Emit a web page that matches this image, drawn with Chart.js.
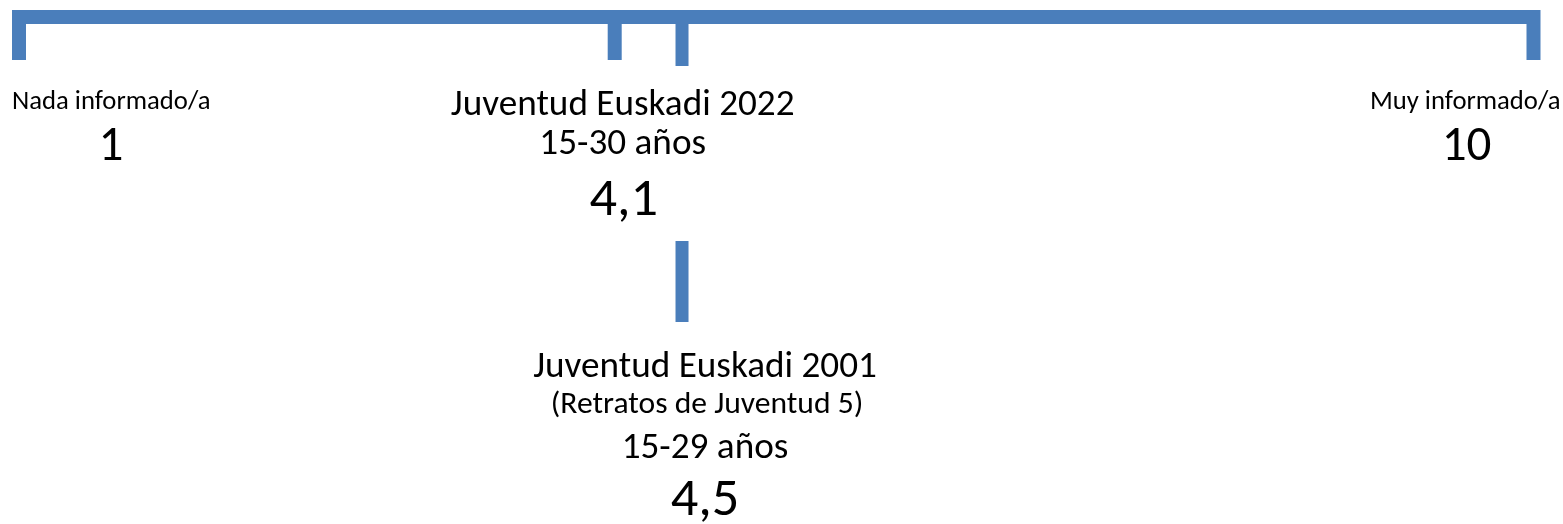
<!DOCTYPE html>
<html>
<head>
<meta charset="utf-8">
<script src="https://cdn.jsdelivr.net/npm/chart.js@4/dist/chart.umd.min.js"></script>
<style>
  html, body { margin: 0; padding: 0; background: #ffffff; }
  #wrap { width: 1563px; height: 524px; }
</style>
</head>
<body>
<div id="wrap"><canvas id="c" width="1563" height="524"></canvas></div>
<script>
// ---------- data ----------
const scaleEnds = [1, 10];
const scaleEndLabels = ['Nada informado/a', 'Muy informado/a'];
const surveyTitles = ['Juventud Euskadi 2022', 'Juventud Euskadi 2001'];
const surveyNotes = ['', '(Retratos de Juventud 5)'];
const ageRanges = ['15-30 años', '15-29 años'];
const scores = [4.1, 4.5];

// ---------- layout / style ----------
const BLUE = '#4A7EBB';
const FONT = "Carlito, Lato, 'Noto Sans', sans-serif";
// the source infographic draws its markers ~0.44 units right of the true scale position
const X_OFFSET = 0.44;
const BAR_Y = 17, BAR_W = 14, END_TICK_BOTTOM = 60;
const MARKER_BOTTOM = [60, 66];
const MARKER_W = [14, 13];
const LINK_TOP = 241, LINK_BOTTOM = 322;

const fmt = v => v.toFixed(1).replace('.', ',');

const xMin = scaleEnds[0] - X_OFFSET;
const xMax = scaleEnds[1] - X_OFFSET;

const datasets = [];
// scale bracket
datasets.push({
  data: [
    { x: xMin, y: END_TICK_BOTTOM }, { x: xMin, y: BAR_Y },
    { x: xMax, y: BAR_Y }, { x: xMax, y: END_TICK_BOTTOM }
  ],
  showLine: true, borderColor: BLUE, borderWidth: BAR_W,
  borderJoinStyle: 'miter', borderCapStyle: 'butt',
  pointRadius: 0, clip: false, tension: 0
});
// score markers
scores.forEach((v, i) => {
  datasets.push({
    data: [{ x: v, y: BAR_Y }, { x: v, y: MARKER_BOTTOM[i] }],
    showLine: true, borderColor: BLUE, borderWidth: MARKER_W[i],
    borderCapStyle: 'butt', pointRadius: 0, clip: false
  });
});
// connector for the 2001 survey
datasets.push({
  data: [{ x: scores[1], y: LINK_TOP }, { x: scores[1], y: LINK_BOTTOM }],
  showLine: true, borderColor: BLUE, borderWidth: MARKER_W[1],
  borderCapStyle: 'butt', pointRadius: 0, clip: false
});

function fitSize(ctx, text, ink) {
  ctx.font = '100px ' + FONT;
  const m = ctx.measureText(text);
  return 100 * ink / (m.actualBoundingBoxLeft + m.actualBoundingBoxRight);
}

const textPlugin = {
  id: 'texts',
  afterDatasetsDraw(chart) {
    const ctx = chart.ctx;
    const xs = chart.scales.x;
    const area = chart.chartArea;
    ctx.save();
    ctx.fillStyle = '#000000';
    ctx.textAlign = 'center';
    ctx.textBaseline = 'alphabetic';

    const sideSize = fitSize(ctx, scaleEndLabels[1], 187);
    const endSize = fitSize(ctx, String(scaleEnds[1]), 45);
    const titleSize = fitSize(ctx, surveyTitles[0], 342);
    const noteSize = fitSize(ctx, surveyNotes[1], 308);
    const scoreSize = fitSize(ctx, fmt(scores[1]), 65);

    // scale ends
    ctx.font = sideSize + 'px ' + FONT;
    ctx.textAlign = 'left';
    ctx.fillText(scaleEndLabels[0], area.left - 7, 109);
    ctx.textAlign = 'right';
    ctx.fillText(scaleEndLabels[1], area.right + 27, 109);
    ctx.textAlign = 'center';
    ctx.font = endSize + 'px ' + FONT;
    ctx.fillText(String(scaleEnds[0]), area.left + 92, 160);
    ctx.fillText(String(scaleEnds[1]), area.right - 67, 160);

    // 2022 block
    const x0 = xs.getPixelForValue(scores[0]) + 8;
    ctx.font = titleSize + 'px ' + FONT;
    ctx.fillText(surveyTitles[0], x0, 115);
    ctx.fillText(ageRanges[0], x0, 154);
    ctx.font = scoreSize + 'px ' + FONT;
    ctx.fillText(fmt(scores[0]), x0 + 1, 215);

    // 2001 block
    const x1 = xs.getPixelForValue(scores[1]) + 23;
    ctx.font = titleSize + 'px ' + FONT;
    ctx.fillText(surveyTitles[1], x1, 377);
    ctx.font = noteSize + 'px ' + FONT;
    ctx.fillText(surveyNotes[1], x1 + 2, 413);
    ctx.font = titleSize + 'px ' + FONT;
    ctx.fillText(ageRanges[1], x1, 458);
    ctx.font = scoreSize + 'px ' + FONT;
    ctx.fillText(fmt(scores[1]), x1, 515);
    ctx.restore();
  }
};

new Chart(document.getElementById('c'), {
  type: 'scatter',
  data: { datasets },
  options: {
    responsive: false,
    devicePixelRatio: 1,
    animation: false,
    layout: { padding: { left: 19, right: 29.5, top: 0, bottom: 0 } },
    plugins: { legend: { display: false }, tooltip: { enabled: false } },
    scales: {
      x: { type: 'linear', min: xMin, max: xMax, display: false },
      y: { type: 'linear', min: 0, max: 524, reverse: true, display: false }
    }
  },
  plugins: [textPlugin]
});
</script>
</body>
</html>
